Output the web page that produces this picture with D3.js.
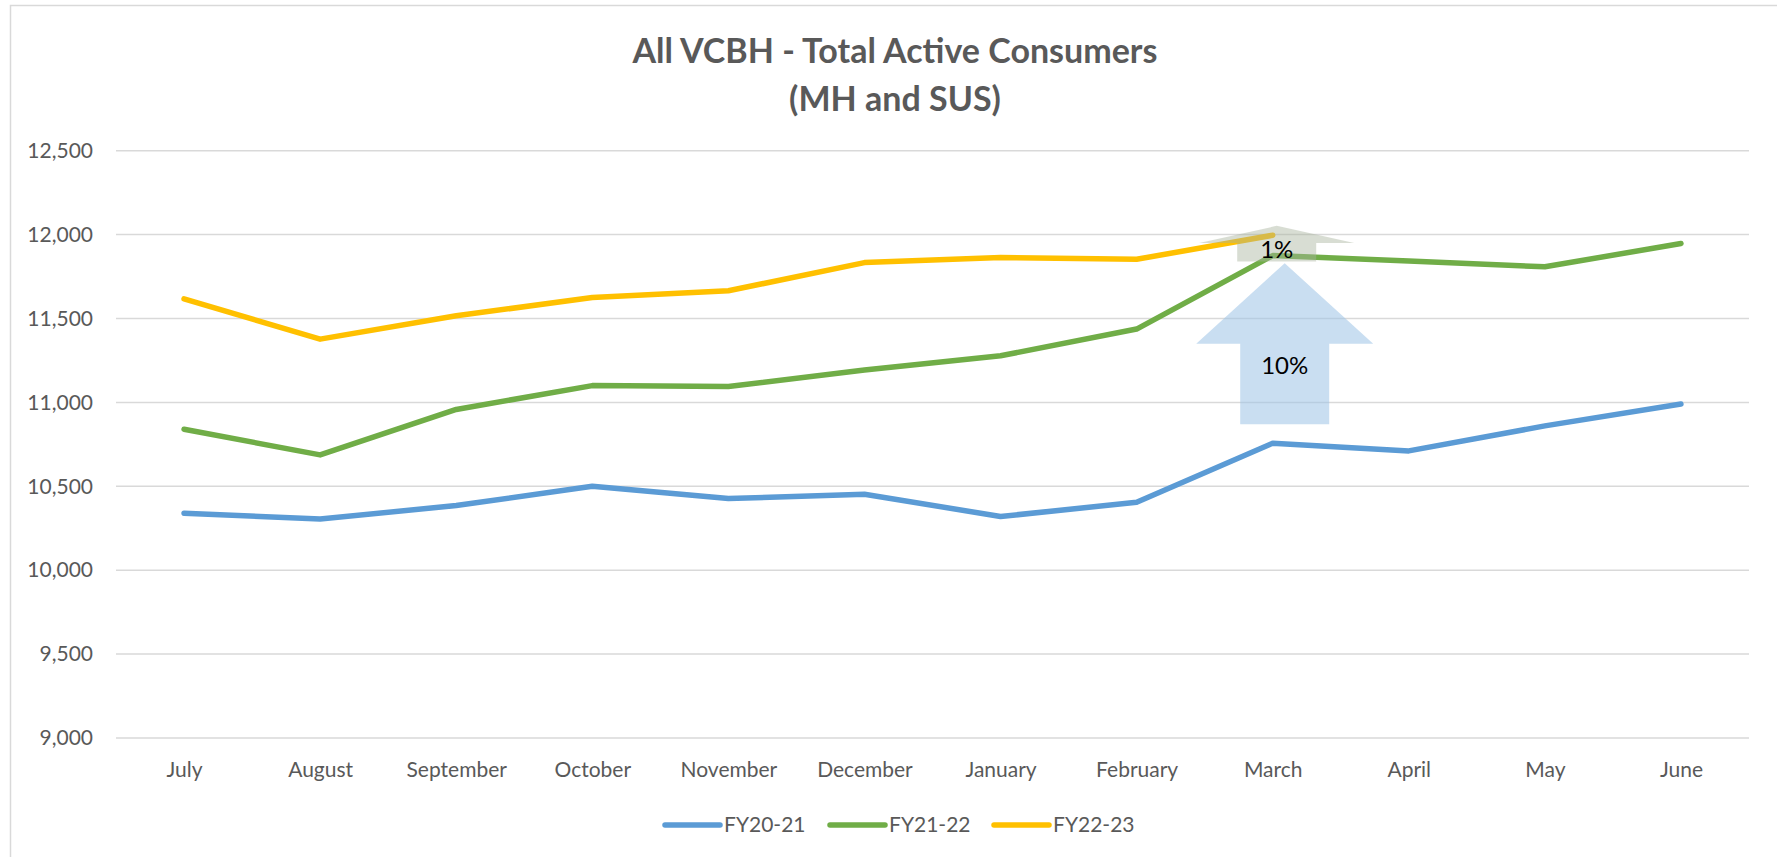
<!DOCTYPE html>
<html>
<head>
<meta charset="utf-8">
<script src="https://cdn.jsdelivr.net/npm/d3@7"></script>
<style>
  body { margin: 0; background: #fff; }
  svg { display: block; font-family: Lato, "Open Sans", sans-serif; }
</style>
</head>
<body>
<script>
var w = 1777;
var h = 857;

var months = ["July", "August", "September", "October", "November", "December",
              "January", "February", "March", "April", "May", "June"];
var seriesNames = ["FY20-21", "FY21-22", "FY22-23"];
var fy2021 = [10340, 10305, 10385, 10500, 10427, 10453, 10320, 10405, 10757, 10711, 10860, 10990];
var fy2122 = [10840, 10687, 10958, 11100, 11095, 11193, 11278, 11437, 11875, 11843, 11808, 11947];
var fy2223 = [11617, 11377, 11516, 11625, 11665, 11833, 11863, 11853, 11996];
var yTicks = [9000, 9500, 10000, 10500, 11000, 11500, 12000, 12500];
var colors = ["#5B9BD5", "#70AD47", "#FFC000"];

// growth arrows at March: [bottom, neck, tip, label position]
var arrowLabels = ["10%", "1%"];
var arrowValues = [[10870, 11350, 11830, 11220], [11840, 11950, 12052, 11908]];

var series = [fy2021, fy2122, fy2223];

var svg = d3.select("body")
    .append("svg")
    .attr("width", w)
    .attr("height", h);

// chart area border
svg.append("rect")
    .attr("x", 10.5)
    .attr("y", 5.5)
    .attr("width", w + 20)
    .attr("height", h + 20)
    .attr("fill", "#fff")
    .attr("stroke", "#d9d9d9")
    .attr("stroke-width", 1.5);

var xScale = d3.scalePoint()
    .domain(months)
    .range([116, 1749])
    .padding(0.5);

var yScale = d3.scaleLinear()
    .domain([9000, 12500])
    .range([738, 150.7]);

// gridlines
svg.append("g")
    .selectAll("line")
    .data(yTicks)
    .enter()
    .append("line")
    .attr("x1", 116)
    .attr("x2", 1749)
    .attr("y1", function (d) { return yScale(d); })
    .attr("y2", function (d) { return yScale(d); })
    .attr("stroke", "#d9d9d9")
    .attr("stroke-width", 1.5);

// y labels
var yAxis = d3.axisLeft(yScale)
    .tickValues(yTicks)
    .tickFormat(d3.format(","))
    .tickSize(0)
    .tickPadding(23);

svg.append("g")
    .attr("transform", "translate(116,0)")
    .call(yAxis)
    .call(function (g) { g.select(".domain").remove(); })
    .selectAll("text")
    .attr("fill", "#595959")
    .style("font-size", "21px")
    .style("font-family", "Lato");

// x labels
var xAxis = d3.axisBottom(xScale)
    .tickSize(0)
    .tickPadding(24);

svg.append("g")
    .attr("transform", "translate(0,738)")
    .call(xAxis)
    .call(function (g) { g.select(".domain").remove(); })
    .selectAll("text")
    .attr("fill", "#595959")
    .style("font-size", "21px")
    .style("font-family", "Lato");

// lines
var line = d3.line()
    .x(function (d, i) { return xScale(months[i]); })
    .y(function (d) { return yScale(d); });

svg.append("g")
    .selectAll("path")
    .data(series)
    .enter()
    .append("path")
    .attr("d", line)
    .attr("fill", "none")
    .attr("stroke", function (d, i) { return colors[i]; })
    .attr("stroke-width", 5.5)
    .attr("stroke-linecap", "round")
    .attr("stroke-linejoin", "round");

// arrows
var arrowStyle = [
    { dx: 12, head: 177, shaft: 89, fill: "#9dc3e6", opacity: 0.55 },
    { dx: 4, head: 155, shaft: 79, fill: "#a9b39e", opacity: 0.45 }
];

arrowValues.forEach(function (v, i) {
    var s = arrowStyle[i];
    var cx = xScale("March") + s.dx;
    var yb = yScale(v[0]), yn = yScale(v[1]), yt = yScale(v[2]);
    var pts = [
        [cx - s.shaft / 2, yb], [cx - s.shaft / 2, yn], [cx - s.head / 2, yn],
        [cx, yt],
        [cx + s.head / 2, yn], [cx + s.shaft / 2, yn], [cx + s.shaft / 2, yb]
    ];
    svg.append("path")
        .attr("d", "M" + pts.join("L") + "Z")
        .attr("fill", s.fill)
        .attr("fill-opacity", s.opacity);
    svg.append("text")
        .attr("x", cx)
        .attr("y", yScale(v[3]))
        .attr("dy", "0.35em")
        .attr("text-anchor", "middle")
        .style("font-size", "24px")
        .attr("fill", "#000")
        .text(arrowLabels[i]);
});

// title
var title = svg.append("text")
    .attr("x", 895)
    .attr("y", 63)
    .attr("text-anchor", "middle")
    .attr("fill", "#595959")
    .style("font-size", "34px")
    .style("font-weight", "bold");
title.append("tspan").attr("x", 895).text("All VCBH - Total Active Consumers");
title.append("tspan").attr("x", 895).attr("dy", 48).text("(MH and SUS)");

// legend
var legendX = [665, 830, 994];
var legend = svg.append("g")
    .selectAll("g")
    .data(seriesNames)
    .enter()
    .append("g")
    .attr("transform", function (d, i) { return "translate(" + legendX[i] + ",825)"; });

legend.append("line")
    .attr("x1", 0)
    .attr("x2", 55)
    .attr("stroke", function (d, i) { return colors[i]; })
    .attr("stroke-width", 5.5)
    .attr("stroke-linecap", "round");

legend.append("text")
    .attr("x", 59)
    .attr("dy", "0.35em")
    .attr("fill", "#595959")
    .style("font-size", "21px")
    .text(function (d) { return d; });
</script>
</body>
</html>
